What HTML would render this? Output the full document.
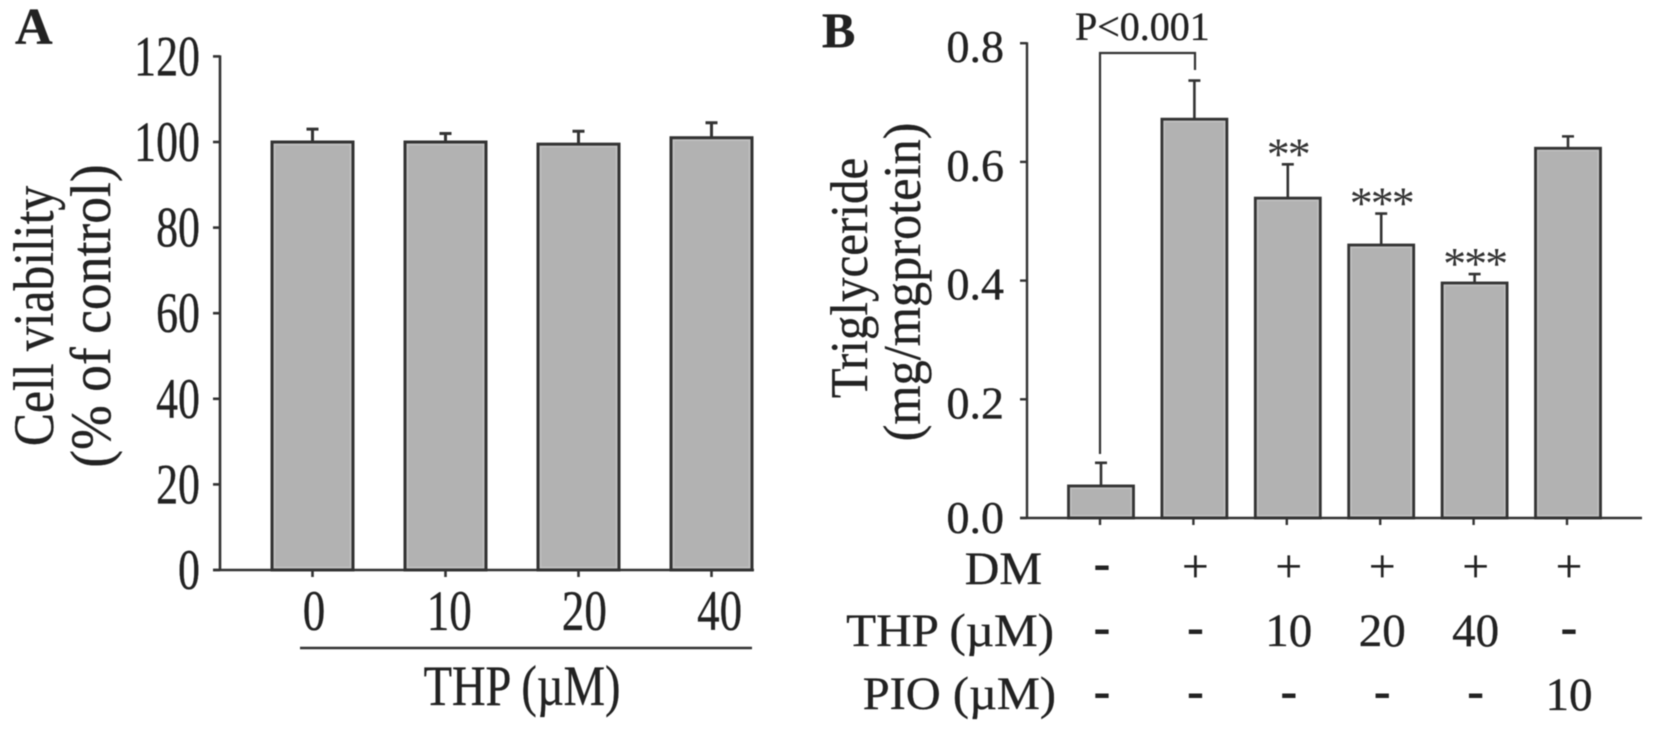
<!DOCTYPE html>
<html lang="en">
<head>
<meta charset="utf-8">
<title>Cell viability and triglyceride bar charts</title>
<style>
html,body{margin:0;padding:0;background:#fff;width:1654px;height:731px;overflow:hidden}
svg{display:block;filter:blur(0.55px)}
text{font-family:"Liberation Serif",serif;fill:#222;stroke:#222;stroke-width:.35px}
</style>
</head>
<body>
<svg id="figure" xmlns="http://www.w3.org/2000/svg" width="1654" height="731" viewBox="0 0 1654 731">
  <text x="15" y="44" font-size="52" font-weight="bold">A</text>
  <text x="822" y="47" font-size="50" font-weight="bold">B</text>
  <text transform="translate(53,316) rotate(-90) scale(.87,1)" font-size="57" text-anchor="middle">Cell viability</text>
  <text transform="translate(110,316) rotate(-90) scale(.94,1)" font-size="57" text-anchor="middle">(% of control)</text>
  <text transform="translate(867,278) rotate(-90) scale(.925,1)" font-size="53" text-anchor="middle">Triglyceride</text>
  <text transform="translate(920,282) rotate(-90) scale(.95,1)" font-size="53" text-anchor="middle">(mg/mgprotein)</text>
  <text transform="translate(522,705) scale(.816,1)" font-size="57" text-anchor="middle">THP (µM)</text>
  <line x1="300" y1="648" x2="752" y2="648" stroke="#333" stroke-width="2.6"/>
  <text x="1075" y="40" font-size="40">P&lt;0.001</text>
  <path d="M1100 454V53H1195V70" fill="none" stroke="#333" stroke-width="2.2"/>
  <text transform="translate(1042,584) scale(1.02,1)" font-size="47" text-anchor="end">DM</text>
  <text transform="translate(1054,646) scale(1.045,1)" font-size="47" text-anchor="end">THP (µM)</text>
  <text transform="translate(1056,709) scale(1.03,1)" font-size="47" text-anchor="end">PIO (µM)</text>
  <g id="chart-a"></g>
  <g id="chart-b"></g>
</svg>
<script>
const categoriesA = ['0', '10', '20', '40'];
const valuesA = [100, 100, 99.5, 101];
const errorsA = [3, 2, 3, 3.5];
const ticksA = [0, 20, 40, 60, 80, 100, 120];

const categoriesB = ['control', 'DM', 'DM+THP10', 'DM+THP20', 'DM+THP40', 'DM+PIO10'];
const valuesB = [0.054, 0.672, 0.539, 0.46, 0.396, 0.623];
const errorsB = [0.039, 0.065, 0.057, 0.053, 0.015, 0.02];
const ticksB = [0.0, 0.2, 0.4, 0.6, 0.8];
const starsB = ['', '', '**', '***', '***', ''];
const rowDM = ['-', '+', '+', '+', '+', '+'];
const rowTHP = ['-', '-', '10', '20', '40', '-'];
const rowPIO = ['-', '-', '-', '-', '-', '10'];

const NS = 'http://www.w3.org/2000/svg';
const INK = '#333';
const BAR = '#b2b2b2';
const BAR_EDGE = '#c2c2c2';
function mk(parent, tag, attrs, content) {
  const el = document.createElementNS(NS, tag);
  for (const k in attrs) el.setAttribute(k, attrs[k]);
  if (content !== undefined) el.textContent = content;
  parent.appendChild(el);
  return el;
}

/* Panel A */
const gA = document.getElementById('chart-a');
const yA = v => 570 - v * 4.28;
const xA = i => 312.5 + i * 133;
const labelXA = i => 314 + i * 135.2;
const barWidthA = 81;
const axisAY = mk(gA, 'line', {x1: 220, y1: yA(120) - 1, x2: 220, y2: 571, stroke: INK, 'stroke-width': 2.6});


ticksA.forEach(t => {
  const tk = mk(gA, 'line', {x1: 213, y1: yA(t), x2: 220, y2: yA(t), stroke: INK, 'stroke-width': 2.6});
  
  
  const lb = mk(gA, 'text', {transform: `translate(200,${yA(t) + 19}) scale(.77,1)`, 'font-size': 57, 'text-anchor': 'end'}, String(t));
  
  
});
categoriesA.forEach((c, i) => {
  const x = xA(i);
  const er = mk(gA, 'path', {d: `M${x} ${yA(valuesA[i])}V${yA(valuesA[i] + errorsA[i])}M${x - 6} ${yA(valuesA[i] + errorsA[i])}H${x + 6}`, fill: 'none', stroke: INK, 'stroke-width': 3});
  
  
  const b = mk(gA, 'rect', {x: x - barWidthA / 2, y: yA(valuesA[i]), width: barWidthA, height: yA(0) - yA(valuesA[i]), fill: BAR, stroke: INK, 'stroke-width': 3});
  
  
  const inner = mk(gA, 'rect', {x: x - barWidthA / 2 + 2.5, y: yA(valuesA[i]) + 2.5, width: barWidthA - 5, height: yA(0) - yA(valuesA[i]) - 5, fill: 'none', stroke: BAR_EDGE, 'stroke-width': 1.5});
  
  
  const tk = mk(gA, 'line', {x1: x, y1: 570, x2: x, y2: 577, stroke: INK, 'stroke-width': 2.6});
  
  
  const lb = mk(gA, 'text', {transform: `translate(${labelXA(i)},630) scale(.79,1)`, 'font-size': 57, 'text-anchor': 'middle'}, c);
  
  
});
const axisAX = mk(gA, 'line', {x1: 213, y1: 570, x2: 754, y2: 570, stroke: INK, 'stroke-width': 2.6});



/* Panel B */
const gB = document.getElementById('chart-b');
const yB = v => 518 - v * 593.5;
const xB = i => 1101 + i * 93.4;
const barWidthB = 65;
const axisBY = mk(gB, 'line', {x1: 1027, y1: yB(0.8) - 1, x2: 1027, y2: 519, stroke: INK, 'stroke-width': 2.4});


ticksB.forEach(t => {
  const tk = mk(gB, 'line', {x1: 1020, y1: yB(t), x2: 1027, y2: yB(t), stroke: INK, 'stroke-width': 2.4});
  
  
  const lb = mk(gB, 'text', {x: 1004, y: yB(t) + (t === 0 ? 15 : 19), 'font-size': 46, 'text-anchor': 'end'}, t.toFixed(1));
  
  
});
categoriesB.forEach((c, i) => {
  const x = xB(i);
  const er = mk(gB, 'path', {d: `M${x} ${yB(valuesB[i])}V${yB(valuesB[i] + errorsB[i])}M${x - 6} ${yB(valuesB[i] + errorsB[i])}H${x + 6}`, fill: 'none', stroke: INK, 'stroke-width': 2.6});
  
  
  const b = mk(gB, 'rect', {x: x - barWidthB / 2, y: yB(valuesB[i]), width: barWidthB, height: yB(0) - yB(valuesB[i]), fill: BAR, stroke: INK, 'stroke-width': 2.8});
  
  
  const inner = mk(gB, 'rect', {x: x - barWidthB / 2 + 2.4, y: yB(valuesB[i]) + 2.4, width: barWidthB - 4.8, height: yB(0) - yB(valuesB[i]) - 4.8, fill: 'none', stroke: BAR_EDGE, 'stroke-width': 1.4});
  
  
  const tk = mk(gB, 'line', {x1: x - 1, y1: 518, x2: x - 1, y2: 525, stroke: INK, 'stroke-width': 2.4});
  
  
  if (starsB[i]) {
    const st = mk(gB, 'text', {x: x, y: yB(valuesB[i] + errorsB[i]) + 5, 'font-size': 46, 'letter-spacing': -2, 'text-anchor': 'middle', style: 'stroke-width:0;fill:#333'}, starsB[i]);
    
    
  }
  const dm = mk(gB, 'text', {x: x + 1, y: rowDM[i] === '-' ? 579 : 582, 'font-size': 47, 'text-anchor': 'middle', style: rowDM[i] === '-' ? 'stroke-width:1.1px' : ''}, rowDM[i]);
  
  
  const th = mk(gB, 'text', {x: x + 1, y: rowTHP[i] === '-' ? 643 : 646, 'font-size': 47, 'text-anchor': 'middle', style: rowTHP[i] === '-' ? 'stroke-width:1.1px' : ''}, rowTHP[i]);
  
  
  const pi = mk(gB, 'text', {x: x + 1, y: rowPIO[i] === '-' ? 707 : 710, 'font-size': 47, 'text-anchor': 'middle', style: rowPIO[i] === '-' ? 'stroke-width:1.1px' : ''}, rowPIO[i]);
  
  
});
const axisBX = mk(gB, 'line', {x1: 1020, y1: 518, x2: 1642, y2: 518, stroke: INK, 'stroke-width': 2.6});


</script>
</body>
</html>
